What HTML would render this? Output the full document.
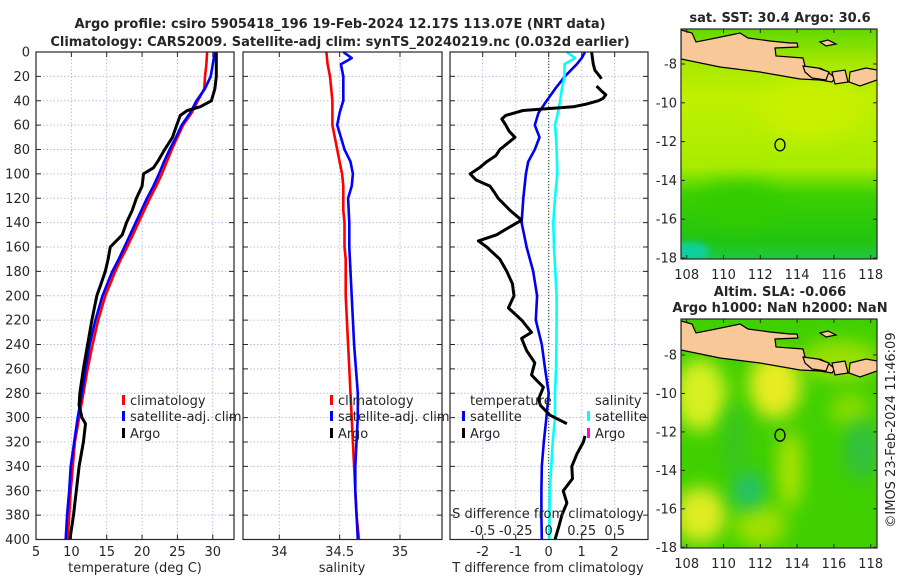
<!DOCTYPE html>
<html><head><meta charset="utf-8">
<style>
html,body{margin:0;padding:0;background:#fff;}
svg{display:block;font-family:"DejaVu Sans","Liberation Sans",sans-serif;}
text{fill:#262626;}
</style></head>
<body>
<svg id="fig" width="900" height="580" viewBox="0 0 900 580" xmlns="http://www.w3.org/2000/svg">
<defs>
<filter id="blur6" x="-50%" y="-50%" width="200%" height="200%"><feGaussianBlur stdDeviation="9"/></filter>
<filter id="blur3" x="-50%" y="-50%" width="200%" height="200%"><feGaussianBlur stdDeviation="4"/></filter>
<clipPath id="clipTop"><rect x="681" y="29" width="196" height="230"/></clipPath>
<clipPath id="clipBot"><rect x="681" y="319" width="196" height="229"/></clipPath>
<linearGradient id="sstGrad" x1="0" y1="0" x2="0" y2="1">
<stop offset="0" stop-color="#60d800"/><stop offset="0.15" stop-color="#a8e800"/><stop offset="0.3" stop-color="#c0f000"/><stop offset="0.6" stop-color="#a8ec00"/><stop offset="0.72" stop-color="#3cd000"/><stop offset="0.92" stop-color="#22c410"/><stop offset="1" stop-color="#20c840"/>
</linearGradient>
</defs>
<text x="340" y="28" text-anchor="middle" font-size="13" font-weight="bold">Argo profile: csiro 5905418_196 19-Feb-2024 12.17S 113.07E (NRT data)</text>
<text x="340" y="46" text-anchor="middle" font-size="13" font-weight="bold">Climatology: CARS2009. Satellite-adj clim: synTS_20240219.nc (0.032d earlier)</text>
<g id="panels"></g>
<text x="780" y="22" text-anchor="middle" font-size="13" font-weight="bold">sat. SST: 30.4 Argo: 30.6</text>
<text x="780" y="296" text-anchor="middle" font-size="13" font-weight="bold">Altim. SLA: -0.066</text>
<text x="780" y="312" text-anchor="middle" font-size="13" font-weight="bold">Argo h1000: NaN h2000: NaN</text>
<text transform="translate(895,430) rotate(-90)" text-anchor="middle" font-size="13">©IMOS 23-Feb-2024 11:46:09</text>
</svg>
<script>
// ---- data ----
const depthsT = [0,10,20,30,40,50,60,70,80,90,100,110,120,130,140,150,160,170,180,190,200,220,240,260,280,300,320,340,360,380,400];
const climT = [29.2,29.1,28.9,28.8,27.9,27.0,25.8,25.0,24.2,23.5,22.8,22.0,21.1,20.3,19.5,18.7,17.9,17.0,16.2,15.5,14.8,13.8,13.0,12.3,11.7,11.1,10.5,10.2,9.9,9.7,9.5];
const satT = [30.3,30.0,29.7,28.9,27.7,26.8,25.6,24.8,23.9,23.1,22.4,21.6,20.7,19.9,19.1,18.3,17.5,16.7,15.8,15.1,14.4,13.4,12.6,12.0,11.5,10.9,10.4,9.9,9.7,9.4,9.2];
const argoDepth = [0,10,20,30,40,45,48,52,60,70,80,90,95,100,110,120,130,140,150,160,170,180,190,200,220,240,260,280,290,300,305,320,340,360,380,400];
const argoT = [30.5,30.5,30.5,30.3,29.8,28.2,26.4,25.4,24.9,24.3,23.2,22.2,21.6,20.2,20.0,19.2,18.6,17.8,17.2,15.5,15.2,14.8,14.2,13.6,12.9,12.3,11.7,11.2,11.1,11.5,12.0,11.7,11.1,10.7,10.3,9.8];
const climS = [34.39,34.40,34.42,34.43,34.44,34.44,34.44,34.46,34.48,34.50,34.52,34.53,34.53,34.53,34.54,34.54,34.54,34.55,34.55,34.55,34.55,34.56,34.57,34.58,34.59,34.60,34.61,34.62,34.63,34.64,34.66];
const satSDepth = [0,5,10,20,30,40,50,60,70,80,90,100,110,120,140,160,180,200,240,280,300,320,340,360,400];
const satS = [34.53,34.60,34.51,34.53,34.53,34.53,34.50,34.48,34.51,34.54,34.59,34.61,34.60,34.57,34.58,34.58,34.59,34.60,34.62,34.65,34.65,34.64,34.63,34.63,34.65];
const diffDepth = [0,5,10,20,30,40,50,60,70,80,90,100,120,140,160,180,200,220,240,260,280,300,320,340,360,380,400];
const satTdiff = [1.1,1.0,0.85,0.49,0.2,-0.06,-0.31,-0.42,-0.28,-0.42,-0.62,-0.69,-0.77,-0.82,-0.67,-0.47,-0.35,-0.39,-0.21,-0.11,0,-0.07,-0.15,-0.21,-0.22,-0.22,-0.21];
const satSdiff = [0.136,0.2,0.12,0.12,0.1,0.086,0.07,0.048,0.055,0.06,0.063,0.065,0.048,0.035,0.04,0.05,0.06,0.06,0.058,0.055,0.048,0.048,0.03,0.02,0.008,0.006,0.005];
const argoDiffDepth = [0,10,15,20,22,25,28,32,35,38,40,43,45,48,52,55,60,65,70,75,80,85,90,95,100,105,110,115,120,130,138,145,150,155,160,170,180,190,200,210,220,230,235,245,255,265,275,285,290,298,305,310,315,320,330,340,350,360,370,380,390,400];
const argoTdiff = [1.3,1.35,1.4,1.55,1.6,null,1.45,1.6,1.73,1.65,1.5,1.1,0.74,-0.78,-1.3,-1.42,-1.3,-1.2,-1.02,-1.25,-1.48,-1.6,-1.88,-2.1,-2.38,-2.2,-1.78,-1.65,-1.53,-1.17,-0.82,-1.27,-1.58,-2.13,-1.88,-1.48,-1.27,-1.1,-1.05,-1.22,-0.82,-0.52,-0.82,-0.67,-0.42,-0.52,-0.16,-0.31,-0.25,0.04,0.55,null,1.1,1.05,0.85,0.7,0.72,0.44,0.55,0.4,0.3,0.19];
const depthTicks = [0,20,40,60,80,100,120,140,160,180,200,220,240,260,280,300,320,340,360,380,400];
const tempTicks = [5,10,15,20,25,30];
const salTicks = [34,34.5,35];
const diffTicks = [-2,-1,0,1,2];
const sDiffTickVals = [-0.5,-0.25,0,0.25,0.5];
const sDiffTickLabels = ['-0.5','-0.25','0','0.25','0.5'];
const latTicks = [-8,-10,-12,-14,-16,-18];
const lonTicks = [108,110,112,114,116,118];
const argoLon = 113.07, argoLat = -12.17;

// ---- helpers ----
const NS='http://www.w3.org/2000/svg';
const root=document.getElementById('panels');
function mk(tag,a,parent){const e=document.createElementNS(NS,tag);for(const k in a)e.setAttribute(k,a[k]);(parent||root).appendChild(e);return e;}
const Y0=52, Y1=539.5;
function yD(d){return Y0+(d/400)*(Y1-Y0);}
function lin(d0,d1,r0,r1){return v=>r0+(v-d0)/(d1-d0)*(r1-r0);}
function pathFrom(xs,ds,fx){let s='',pen=false;for(let i=0;i<xs.length;i++){if(xs[i]===null){pen=false;continue;}s+=(pen?'L':'M')+fx(xs[i]).toFixed(1)+' '+yD(ds[i]).toFixed(1)+' ';pen=true;}return s;}

function panel(name,x0,x1,xTicks,fx,xLabels,showY){
  const g=mk('g',{});
  
  
  for(const t of xTicks){const l=mk('line',{x1:fx(t),x2:fx(t),y1:Y0,y2:Y1,stroke:'#b8c0e6','stroke-dasharray':'1.5,2','stroke-width':1},g);
    
    }
  for(const d of depthTicks){if(d===0||d===400)continue;const l=mk('line',{x1:x0,x2:x1,y1:yD(d),y2:yD(d),stroke:'#b8c0e6','stroke-dasharray':'1.5,2','stroke-width':1},g);
    
    }
  for(const d of depthTicks){mk('line',{x1:x0,x2:x0+5,y1:yD(d),y2:yD(d),stroke:'#262626'},g);mk('line',{x1:x1-5,x2:x1,y1:yD(d),y2:yD(d),stroke:'#262626'},g);
    if(showY){const t=mk('text',{x:x0-6,y:yD(d)+4.5,'text-anchor':'end','font-size':13},g);t.textContent=d;
      
      }}
  xTicks.forEach((t,i)=>{mk('line',{x1:fx(t),x2:fx(t),y1:Y1,y2:Y1-5,stroke:'#262626'},g);mk('line',{x1:fx(t),x2:fx(t),y1:Y0,y2:Y0+5,stroke:'#262626'},g);
    const tx=mk('text',{x:fx(t),y:556,'text-anchor':'middle','font-size':13},g);tx.textContent=xLabels[i];
    
    });
  return g;
}
function frame(x0,x1){const r=mk('rect',{x:x0,y:Y0,width:x1-x0,height:Y1-Y0,fill:'none',stroke:'#262626','stroke-width':1.2});
  
  }
function series(g,d,color,name,w){const p=mk('path',{d:d,fill:'none',stroke:color,'stroke-width':w||2.6,'stroke-linejoin':'round'},g);
  
  }
function legendEntry(x,y,color,label,name){const g=mk('g',{});
  
  
  mk('rect',{x:x,y:y-10,width:3,height:10,fill:color},g);
  const t=mk('text',{x:x+8,y:y,'font-size':13},g);t.textContent=label;}
function label(x,y,txt,name,anchor){const t=mk('text',{x:x,y:y,'font-size':13,'text-anchor':anchor||'middle'});t.textContent=txt;
  
  }

// ---- panel 1: temperature ----
const fT=lin(5,33,36,234);
const g1=panel('temperature-panel',36,234,tempTicks,fT,tempTicks.map(String),true);
series(g1,pathFrom(climT,depthsT,fT),'#ff0000','climatology-temperature-line');
series(g1,pathFrom(satT,depthsT,fT),'#0000ff','satellite-temperature-line');
series(g1,pathFrom(argoT,argoDepth,fT),'#000000','argo-temperature-line',3);
frame(36,234);
label(135,572,'temperature (deg C)','temperature-axis-title');
legendEntry(122,405,'#ff0000','climatology','legend-climatology');
legendEntry(122,421,'#0000ff','satellite-adj. clim','legend-satellite-adj');
legendEntry(122,438,'#000000','Argo','legend-argo');

// ---- panel 2: salinity ----
const fS=lin(34,35,279.3,400);
const g2=panel('salinity-panel',243,442,salTicks,fS,['34','34.5','35'],false);
series(g2,pathFrom(climS,depthsT,fS),'#ff0000','climatology-salinity-line');
series(g2,pathFrom(satS,satSDepth,fS),'#0000ff','satellite-salinity-line');
frame(243,442);
label(342,572,'salinity','salinity-axis-title');
legendEntry(330,405,'#ff0000','climatology','legend-sal-climatology');
legendEntry(330,421,'#0000ff','satellite-adj. clim','legend-sal-satellite-adj');
legendEntry(330,438,'#000000','Argo','legend-sal-argo');

// ---- panel 3: differences ----
const fD=lin(-3,3,449.7,647.7);
const fSD=lin(-0.75,0.75,449.7,647.7);
const g3=panel('difference-panel',450,648,diffTicks,fD,diffTicks.map(String),false);
const zl=mk('line',{x1:fD(0),x2:fD(0),y1:Y0,y2:Y1,stroke:'#3a5a2a','stroke-dasharray':'1,2','stroke-width':1.2},g3);


series(g3,pathFrom(satTdiff,diffDepth,fD),'#0000ee','satellite-temp-diff-line');
series(g3,pathFrom(satSdiff,diffDepth,fSD),'#00ffff','satellite-sal-diff-line');
series(g3,pathFrom(argoTdiff,argoDiffDepth,fD),'#000000','argo-temp-diff-line',3);
frame(450,648);
label(548,572,'T difference from climatology','t-diff-axis-title');
label(548,518,'S difference from climatology','s-diff-axis-title');
sDiffTickVals.forEach((v,i)=>{label(fSD(v),535,sDiffTickLabels[i],'s-diff-tick-label');});
label(470,405,'temperature','legend-temperature-header','start');
label(595,405,'salinity','legend-salinity-header','start');
legendEntry(462,421,'#0000ff','satellite','legend-temp-satellite');
legendEntry(462,438,'#000000','Argo','legend-temp-argo');
legendEntry(587,421,'#00ffff','satellite','legend-sal-satellite');
legendEntry(587,438,'#ff00ff','Argo','legend-sal-argo');

// ---- maps ----
const landTop=[[681,30],[692,33],[696,42],[716,38],[740,33],[748,38],[770,41],[790,43],[797,43],[798,47],[775,48],[776,56],[803,58],[805,66],[810,74],[820,68],[828,72],[835,78],[832,82],[820,80],[800,79],[760,72],[720,67],[681,59]];
const islands=[[[803,66],[818,68],[829,72],[826,80],[812,78],[805,72]],[[832,72],[845,70],[848,82],[835,84]],[[850,72],[866,68],[877,70],[877,80],[860,86],[849,82]],[[820,42],[828,40],[836,44],[826,46]]];
function drawMap(name,clip){
  const g=mk('g',{});
  
  
  const body=mk('g',{'clip-path':'url(#'+clip+')'},g);
  return {g,body};
}
function fLon(lon){return 686.7+(lon-108)*18.4;}
// top SST map
let m=drawMap('sst-map','clipTop');
mk('rect',{x:681,y:29,width:196,height:230,fill:'url(#sstGrad)'},m.body);
mk('ellipse',{cx:740,cy:205,rx:40,ry:22,fill:'#30cc00',filter:'url(#blur6)'},m.body);
mk('ellipse',{cx:690,cy:252,rx:20,ry:10,fill:'#10d0a0',filter:'url(#blur3)'},m.body);
mk('ellipse',{cx:810,cy:110,rx:50,ry:30,fill:'#c8f000',filter:'url(#blur6)'},m.body);
// bottom SLA map
let m2=drawMap('sla-map','clipBot');
mk('rect',{x:681,y:319,width:196,height:229,fill:'#40d000'},m2.body);
[[700,395,26,36,'#d8f020'],[775,385,26,34,'#e8ec20'],[700,515,26,28,'#e0ec20'],[840,360,40,20,'#9ae000'],[760,525,26,22,'#a0e000'],[790,470,12,40,'#b0e400'],[850,410,20,18,'#88dc00']].forEach(b=>{mk('ellipse',{cx:b[0],cy:b[1],rx:b[2],ry:b[3],fill:b[4],filter:'url(#blur6)'},m2.body);});
[[748,490,16,20,'#20c070'],[862,450,18,30,'#30c040'],[735,440,12,36,'#38c420']].forEach(b=>{mk('ellipse',{cx:b[0],cy:b[1],rx:b[2],ry:b[3],fill:b[4],filter:'url(#blur6)'},m2.body);});
[[m.body,0],[m2.body,291]].forEach(([body,dy])=>{
  const l=mk('polygon',{points:landTop.map(p=>p[0]+','+(p[1]+dy)).join(' '),fill:'#f8c898',stroke:'#000','stroke-width':1.2},body);
  
  
  islands.forEach(isl=>{const p=mk('polygon',{points:isl.map(p=>p[0]+','+(p[1]+dy)).join(' '),fill:'#f8c898',stroke:'#000','stroke-width':1.2},body);
    
    });
});
[[m.g,29,259,64,19.4],[m2.g,319,548,355,19.23]].forEach(([g,t,b,y8,sc])=>{
  mk('rect',{x:681,y:t,width:196,height:b-t,fill:'none',stroke:'#262626','stroke-width':1.2},g);
  const fLat=lat=>y8+(-8-lat)*sc;
  latTicks.forEach(lt=>{mk('line',{x1:681,x2:685,y1:fLat(lt),y2:fLat(lt),stroke:'#262626'},g);mk('line',{x1:873,x2:877,y1:fLat(lt),y2:fLat(lt),stroke:'#262626'},g);
    const tx=mk('text',{x:677,y:fLat(lt)+4.5,'text-anchor':'end','font-size':13},g);tx.textContent=lt;
    
    });
  lonTicks.forEach(ln=>{mk('line',{x1:fLon(ln),x2:fLon(ln),y1:b,y2:b-4,stroke:'#262626'},g);mk('line',{x1:fLon(ln),x2:fLon(ln),y1:t,y2:t+4,stroke:'#262626'},g);
    const tx=mk('text',{x:fLon(ln),y:b+20,'text-anchor':'middle','font-size':13},g);tx.textContent=ln;
    
    });
  const c=mk('ellipse',{cx:fLon(argoLon),cy:fLat(argoLat),rx:5,ry:6,fill:'none',stroke:'#000','stroke-width':1.3},g);
  
  
});
</script>
</body></html>
